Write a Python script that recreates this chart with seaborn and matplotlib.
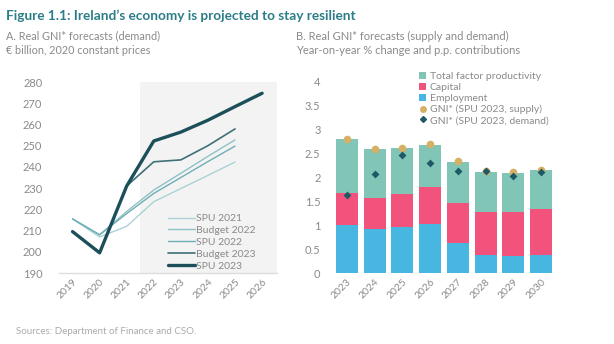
import matplotlib
matplotlib.use("Agg")
import matplotlib.pyplot as plt
import matplotlib.transforms as mtransforms
import seaborn as sns
import pandas as pd
import numpy as np
from matplotlib.lines import Line2D
from matplotlib.patches import Patch

# ---------------- data ----------------
years_a = [2019, 2020, 2021, 2022, 2023, 2024, 2025, 2026]
spu_2021 = [215.5, 207.0, 212.0, 223.6, 229.8, 236.0, 242.3, np.nan]
budget_2022 = [215.5, 208.0, 219.0, 229.1, 237.0, 245.0, 252.7, np.nan]
spu_2022 = [215.5, 208.0, 218.0, 227.5, 235.0, 242.5, 249.8, np.nan]
budget_2023 = [209.5, 199.8, 231.0, 242.4, 243.3, 250.0, 257.9, np.nan]
spu_2023 = [209.5, 199.5, 231.0, 252.2, 256.4, 262.0, 268.4, 274.7]
series_names = ["SPU 2021", "Budget 2022", "SPU 2022", "Budget 2023", "SPU 2023"]

years_b = ["2023", "2024", "2025", "2026", "2027", "2028", "2029", "2030"]
employment = [1.01, 0.93, 0.96, 1.03, 0.63, 0.38, 0.35, 0.37]
capital = [0.67, 0.65, 0.70, 0.78, 0.84, 0.90, 0.93, 0.98]
tfp = [1.13, 1.01, 0.95, 0.88, 0.86, 0.83, 0.82, 0.80]
gni_supply = [2.81, 2.60, 2.62, 2.70, 2.34, 2.13, 2.11, 2.15]
gni_demand = [1.63, 2.08, 2.48, 2.31, 2.14, 2.13, 2.04, 2.12]

# ---------------- style ----------------
sns.set_theme(style="white")
plt.rcParams["font.family"] = ["Lato", "DejaVu Sans"]
grey_txt = "#8a8a8a"
line_cols = ["#a9d3d6", "#8fc1c5", "#6eaeb6", "#3e7077", "#1d4f5b"]
line_w = [1.0, 1.0, 1.0, 1.2, 2.4]
c_tfp, c_cap, c_emp = "#80c5b5", "#f2537c", "#47b7e2"
c_sup, c_dem = "#d6b064", "#1f5866"

fig = plt.figure(figsize=(6.14, 3.44), dpi=100)
fig.patch.set_facecolor("white")
shift = mtransforms.ScaledTranslation(4 / 72, 0, fig.dpi_scale_trans)

# ---------------- panel A ----------------
axA = fig.add_axes([59 / 614, 71 / 344, 218 / 614, 191 / 344])
axA.axvspan(2021.5, 2026.6, ymin=0, ymax=1, color="#f3f3f3", zorder=0, lw=0)
all_series = [spu_2021, budget_2022, spu_2022, budget_2023, spu_2023]
for name, vals, col, lw in zip(series_names, all_series, line_cols, line_w):
    df = pd.DataFrame({"year": years_a, "value": vals}).dropna()
    sns.lineplot(data=df, x="year", y="value", ax=axA, color=col, linewidth=lw,
                 label=name, zorder=3)
axA.set_xlim(2018.5, 2026.55)
axA.set_ylim(190, 280)
axA.set_yticks(range(190, 281, 10))
axA.set_xticks(years_a)
axA.set_xticklabels([str(y) for y in years_a], rotation=45, ha="right",
                    rotation_mode="anchor")
for lab in axA.get_xticklabels():
    lab.set_transform(lab.get_transform() + shift)
axA.set_xlabel("")
axA.set_ylabel("")
for s in ["top", "right", "left"]:
    axA.spines[s].set_visible(False)
axA.spines["bottom"].set_color("#dddddd")
axA.spines["bottom"].set_linewidth(1.0)
axA.tick_params(axis="y", length=0, pad=12, labelsize=8, labelcolor=grey_txt)
axA.tick_params(axis="x", length=0, pad=3, labelsize=7.5, labelcolor=grey_txt)
legA = axA.legend(loc="lower left", bbox_to_anchor=(0.48, -0.01), frameon=False,
                  fontsize=7.5, handlelength=2.6, handletextpad=0.1,
                  labelspacing=0.25, borderaxespad=0)
for t in legA.get_texts():
    t.set_color(grey_txt)

# ---------------- panel B ----------------
axB = fig.add_axes([333 / 614, 71 / 344, 222 / 614, 191 / 344])
emp = np.array(employment)
cap_top = emp + np.array(capital)
tfp_top = cap_top + np.array(tfp)
dfb = pd.DataFrame({"year": years_b, "tfp_top": tfp_top, "cap_top": cap_top,
                    "emp": emp, "supply": gni_supply, "demand": gni_demand})
sns.barplot(data=dfb, x="year", y="tfp_top", ax=axB, color=c_tfp, saturation=1,
            width=0.8, edgecolor="none", zorder=1)
sns.barplot(data=dfb, x="year", y="cap_top", ax=axB, color=c_cap, saturation=1,
            width=0.8, edgecolor="none", zorder=2)
sns.barplot(data=dfb, x="year", y="emp", ax=axB, color=c_emp, saturation=1,
            width=0.8, edgecolor="none", zorder=3)
sns.stripplot(data=dfb, x="year", y="supply", ax=axB, color=c_sup, jitter=False,
              marker="o", size=5.5, linewidth=0, zorder=4)
sns.stripplot(data=dfb, x="year", y="demand", ax=axB, color=c_dem, jitter=False,
              marker="D", size=4, linewidth=0, zorder=5)
axB.set_xlim(-0.5, 7.5)
axB.set_ylim(0, 4)
axB.set_yticks([0, 0.5, 1, 1.5, 2, 2.5, 3, 3.5, 4])
axB.set_yticklabels(["0", "0.5", "1", "1.5", "2", "2.5", "3", "3.5", "4"])
axB.set_xticks(range(len(years_b)))
axB.set_xticklabels(years_b, rotation=45, ha="right", rotation_mode="anchor")
for lab in axB.get_xticklabels():
    lab.set_transform(lab.get_transform() + shift)
axB.set_xlabel("")
axB.set_ylabel("")
for s in ["top", "right", "left", "bottom"]:
    axB.spines[s].set_visible(False)
axB.tick_params(axis="y", length=0, pad=9, labelsize=8, labelcolor=grey_txt)
axB.tick_params(axis="x", length=0, pad=3, labelsize=7.5, labelcolor=grey_txt)

handles = [Patch(facecolor=c_tfp, edgecolor="none"),
           Patch(facecolor=c_cap, edgecolor="none"),
           Patch(facecolor=c_emp, edgecolor="none"),
           Line2D([], [], marker="o", color=c_sup, linestyle="none", markersize=4),
           Line2D([], [], marker="D", color=c_dem, linestyle="none", markersize=3)]
labels = ["Total factor productivity", "Capital", "Employment",
          "GNI* (SPU 2023, supply)", "GNI* (SPU 2023, demand)"]
legB = fig.legend(handles, labels, loc="upper left", bbox_to_anchor=(415 / 614, 1 - 68 / 344),
                  frameon=False, fontsize=7.5, handlelength=0.7, handleheight=0.7,
                  handletextpad=0.3, labelspacing=0.15, borderaxespad=0)
for t in legB.get_texts():
    t.set_color(grey_txt)

# ---------------- texts ----------------
fig.text(6 / 614, 1 - 16 / 344, "Figure 1.1: Ireland\u2019s economy is projected to stay resilient",
         fontsize=9.8, fontweight="bold", color="#2c7d88", va="center", ha="left")
fig.text(6 / 614, 1 - 36 / 344, "A. Real GNI* forecasts (demand)", fontsize=7.8,
         color=grey_txt, va="center", ha="left")
fig.text(6 / 614, 1 - 51 / 344, "\u20ac billion, 2020 constant prices", fontsize=7.8,
         color=grey_txt, va="center", ha="left")
fig.text(296 / 614, 1 - 36 / 344, "B. Real GNI* forecasts (supply and demand)", fontsize=8,
         color=grey_txt, va="center", ha="left")
fig.text(296 / 614, 1 - 51 / 344, "Year-on-year % change and p.p. contributions", fontsize=8,
         color=grey_txt, va="center", ha="left")
fig.text(16 / 614, 1 - 332 / 344, "Sources: Department of Finance and CSO.", fontsize=7,
         color="#aaaaaa", va="center", ha="left")

fig.savefig("out.png", dpi=100, facecolor="white")
